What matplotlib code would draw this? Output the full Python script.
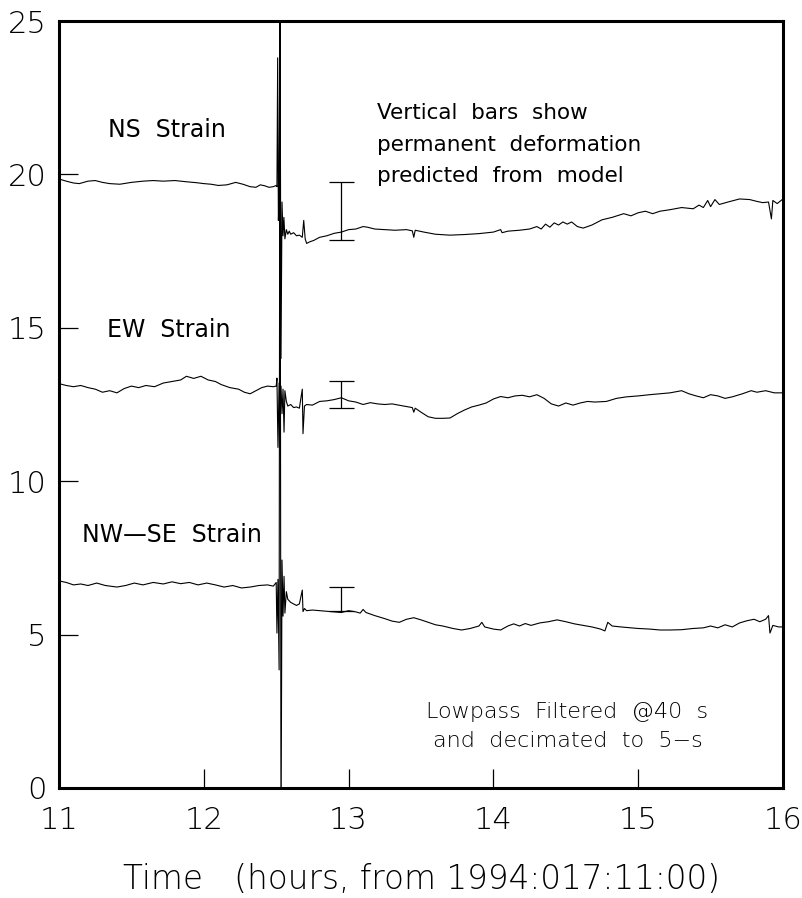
import matplotlib
matplotlib.use("Agg")
import matplotlib.pyplot as plt

# hours since 1994:017:11:00 and strain values
ns_t = [11.00, 11.05, 11.10, 11.14, 11.20, 11.25, 11.30, 11.35, 11.42, 11.50, 11.58, 11.65, 11.72,
        11.80, 11.88, 11.95, 12.00, 12.05, 12.10, 12.16, 12.22, 12.27, 12.32, 12.36, 12.39, 12.42,
        12.45, 12.48, 12.50, 12.505, 12.51, 12.515, 12.52, 12.526, 12.533, 12.54, 12.547, 12.553,
        12.56, 12.57, 12.58, 12.59, 12.60, 12.62, 12.64, 12.66, 12.68, 12.69, 12.70, 12.71, 12.73,
        12.76, 12.80, 12.85, 12.90, 12.95, 13.00, 13.05, 13.10, 13.13, 13.18, 13.25, 13.32, 13.40,
        13.44, 13.45, 13.46, 13.52, 13.60, 13.70, 13.80, 13.90, 14.00, 14.05, 14.06, 14.10, 14.18,
        14.25, 14.30, 14.33, 14.36, 14.39, 14.42, 14.45, 14.48, 14.51, 14.54, 14.58, 14.62, 14.68,
        14.75, 14.82, 14.90, 14.95, 15.00, 15.05, 15.10, 15.15, 15.22, 15.30, 15.38, 15.42, 15.45,
        15.48, 15.50, 15.53, 15.56, 15.62, 15.70, 15.77, 15.82, 15.86, 15.90, 15.92, 15.93, 15.96,
        16.00]
ns_v = [19.85, 19.78, 19.72, 19.70, 19.78, 19.80, 19.74, 19.70, 19.68, 19.74, 19.78, 19.80, 19.78,
        19.80, 19.76, 19.73, 19.70, 19.68, 19.64, 19.66, 19.74, 19.68, 19.60, 19.58, 19.66, 19.63,
        19.58, 19.60, 19.64, 19.60, 23.80, 18.50, 19.20, 26.00, 14.00, 19.10, 18.00, 18.60,
        17.90, 18.20, 18.05, 18.15, 18.05, 18.10, 18.00, 18.02, 17.95, 18.50, 17.90, 17.75, 17.80,
        17.85, 17.95, 18.00, 18.08, 18.12, 18.20, 18.22, 18.30, 18.28, 18.22, 18.20, 18.18, 18.20,
        18.16, 17.95, 18.18, 18.12, 18.05, 18.02, 18.04, 18.07, 18.12, 18.20, 18.10, 18.15, 18.18,
        18.22, 18.30, 18.22, 18.38, 18.28, 18.42, 18.35, 18.45, 18.38, 18.45, 18.30, 18.25, 18.35,
        18.52, 18.60, 18.72, 18.65, 18.75, 18.80, 18.72, 18.80, 18.85, 18.92, 18.88, 19.00, 18.92,
        19.15, 18.95, 19.18, 19.02, 19.10, 19.20, 19.18, 19.12, 19.08, 19.10, 18.55, 19.15, 19.05,
        19.20]

ew_t = [11.00, 11.05, 11.10, 11.15, 11.20, 11.25, 11.30, 11.35, 11.40, 11.45, 11.50, 11.55, 11.60,
        11.66, 11.72, 11.78, 11.84, 11.88, 11.93, 11.98, 12.03, 12.08, 12.12, 12.18, 12.24, 12.28,
        12.32, 12.36, 12.40, 12.44, 12.48, 12.50, 12.505, 12.512, 12.52, 12.526, 12.533, 12.54,
        12.547, 12.554, 12.56, 12.57, 12.58, 12.60, 12.62, 12.64, 12.66, 12.68, 12.685, 12.695,
        12.71, 12.75, 12.80, 12.85, 12.90, 12.95, 13.00, 13.05, 13.10, 13.15, 13.20, 13.25, 13.30,
        13.38, 13.44, 13.45, 13.46, 13.50, 13.55, 13.60, 13.65, 13.70, 13.75, 13.80, 13.85, 13.90,
        13.95, 14.00, 14.05, 14.10, 14.15, 14.20, 14.25, 14.30, 14.35, 14.40, 14.45, 14.50, 14.55,
        14.60, 14.65, 14.70, 14.78, 14.85, 14.92, 15.00, 15.08, 15.15, 15.22, 15.30, 15.35, 15.40,
        15.45, 15.50, 15.55, 15.60, 15.65, 15.72, 15.78, 15.82, 15.88, 15.94, 16.00]
ew_v = [13.18, 13.12, 13.08, 13.12, 13.05, 13.00, 12.90, 12.95, 12.88, 13.02, 13.10, 13.05, 13.12,
        13.08, 13.20, 13.25, 13.30, 13.42, 13.35, 13.42, 13.30, 13.25, 13.15, 13.05, 13.00, 12.90,
        12.85, 12.95, 13.05, 13.10, 13.08, 13.10, 13.36, 11.10, 13.20, 12.00, 13.10, 12.20,
        13.00, 11.60, 12.95, 12.60, 12.45, 12.50, 12.40, 12.42, 12.38, 13.00, 11.55, 12.45,
        12.50, 12.48, 12.60, 12.62, 12.66, 12.72, 12.62, 12.58, 12.50, 12.56, 12.52, 12.50, 12.52,
        12.45, 12.40, 12.25, 12.38, 12.25, 12.10, 12.05, 12.05, 12.06, 12.20, 12.32, 12.42, 12.48,
        12.55, 12.68, 12.76, 12.72, 12.78, 12.80, 12.75, 12.82, 12.70, 12.52, 12.45, 12.55, 12.48,
        12.55, 12.60, 12.58, 12.60, 12.70, 12.75, 12.78, 12.82, 12.85, 12.88, 12.95, 12.85, 12.78,
        12.72, 12.82, 12.78, 12.70, 12.75, 12.85, 12.95, 12.90, 12.95, 12.88, 12.88]

nwse_t = [11.00, 11.05, 11.10, 11.15, 11.20, 11.26, 11.32, 11.40, 11.46, 11.52, 11.58, 11.65, 11.72,
          11.78, 11.84, 11.90, 11.96, 12.02, 12.08, 12.14, 12.20, 12.26, 12.32, 12.38, 12.44, 12.48,
          12.50, 12.505, 12.512, 12.52, 12.526, 12.533, 12.54, 12.547, 12.554, 12.56, 12.57, 12.58,
          12.60, 12.62, 12.64, 12.66, 12.68, 12.685, 12.695, 12.71, 12.75, 12.80, 12.85, 12.90,
          12.95, 13.00, 13.05, 13.08, 13.10, 13.12, 13.18, 13.25, 13.30, 13.35, 13.40, 13.45, 13.50,
          13.55, 13.60, 13.65, 13.72, 13.78, 13.84, 13.90, 13.92, 13.94, 14.00, 14.05, 14.10, 14.14,
          14.18, 14.22, 14.26, 14.32, 14.38, 14.44, 14.50, 14.56, 14.62, 14.68, 14.74, 14.77, 14.79,
          14.82, 14.88, 14.95, 15.00, 15.08, 15.15, 15.22, 15.30, 15.38, 15.45, 15.50, 15.55, 15.60,
          15.65, 15.70, 15.75, 15.80, 15.84, 15.88, 15.90, 15.91, 15.93, 15.97, 16.00]
nwse_v = [6.75, 6.70, 6.62, 6.65, 6.60, 6.68, 6.60, 6.55, 6.60, 6.68, 6.62, 6.70, 6.65,
          6.72, 6.66, 6.70, 6.62, 6.68, 6.62, 6.55, 6.60, 6.52, 6.55, 6.60, 6.62, 6.58,
          6.70, 5.05, 6.80, 3.85, 27.00, -2.00, 7.43, 5.60, 6.90, 5.70, 6.40, 6.15,
          6.05, 6.00, 5.95, 6.00, 6.45, 5.75, 5.85, 5.78, 5.80, 5.78, 5.76, 5.74,
          5.72, 5.78, 5.74, 5.70, 5.82, 5.72, 5.62, 5.52, 5.44, 5.40, 5.50, 5.55, 5.48,
          5.40, 5.32, 5.28, 5.20, 5.15, 5.20, 5.28, 5.40, 5.25, 5.18, 5.15, 5.28, 5.35,
          5.28, 5.36, 5.30, 5.38, 5.42, 5.48, 5.42, 5.35, 5.30, 5.25, 5.18, 5.12, 5.40,
          5.28, 5.25, 5.22, 5.20, 5.18, 5.15, 5.15, 5.16, 5.20, 5.22, 5.28, 5.22, 5.32,
          5.25, 5.38, 5.45, 5.50, 5.42, 5.50, 5.62, 5.05, 5.30, 5.25, 5.25]

# predicted permanent deformation bars (time, low, high)
bar_t = 12.95
bar_low = [17.86, 12.38, 5.77]
bar_high = [19.75, 13.27, 6.55]

x_ticks = [11, 12, 13, 14, 15, 16]
y_ticks = [0, 5, 10, 15, 20, 25]

thin = {"family": "DejaVu Sans", "weight": 200}
plain = {"family": "DejaVu Sans"}

fig = plt.figure(figsize=(8.02, 8.98), dpi=100)
ax = fig.add_axes([0.0736, 0.1225, 0.9027, 0.8541])

for t, v in [(ns_t, ns_v), (ew_t, ew_v), (nwse_t, nwse_v)]:
    ax.plot(t, v, color="black", linewidth=0.8)

ax.errorbar([bar_t] * 3, [(lo + hi) / 2 for lo, hi in zip(bar_low, bar_high)],
            yerr=[[(hi - lo) / 2 for lo, hi in zip(bar_low, bar_high)]] * 2,
            fmt="none", ecolor="black", elinewidth=0.9, capsize=9, capthick=0.9)

ax.set_xlim(11, 16)
ax.set_ylim(0, 25)
ax.set_xticks(x_ticks)
ax.set_yticks(y_ticks)
ax.tick_params(direction="in", length=14, width=0.9, top=False, right=False)
ax.tick_params(axis="y", pad=9)
ax.tick_params(axis="x", pad=13)
for lab in ax.get_xticklabels() + ax.get_yticklabels():
    lab.set_fontsize(22)
    lab.set_fontfamily(thin["family"])
    lab.set_fontweight(thin["weight"])
for sp in ax.spines.values():
    sp.set_linewidth(2.2)

ax.set_xlabel("Time   (hours, from 1994:017:11:00)", fontsize=23.5, labelpad=20, **thin)

ax.text(11.338, 21.22, "NS  Strain", fontsize=17, va="baseline", **plain)
ax.text(11.33, 14.70, "EW  Strain", fontsize=17, va="baseline", **plain)
ax.text(11.16, 8.02, "NW\u2014SE  Strain", fontsize=17, va="baseline", **plain)

ax.text(13.196, 21.80, "Vertical  bars  show", fontsize=15.5, va="baseline", **plain)
ax.text(13.196, 20.76, "permanent  deformation", fontsize=15.5, va="baseline", **plain)
ax.text(13.196, 19.75, "predicted  from  model", fontsize=15.5, va="baseline", **plain)

ax.text(14.512, 2.28, "Lowpass  Filtered  @40  s", fontsize=16, ha="center", va="baseline", **thin)
ax.text(14.512, 1.34, "and  decimated  to  5\u2212s", fontsize=16, ha="center", va="baseline", **thin)

fig.savefig("out.png", dpi=100)
